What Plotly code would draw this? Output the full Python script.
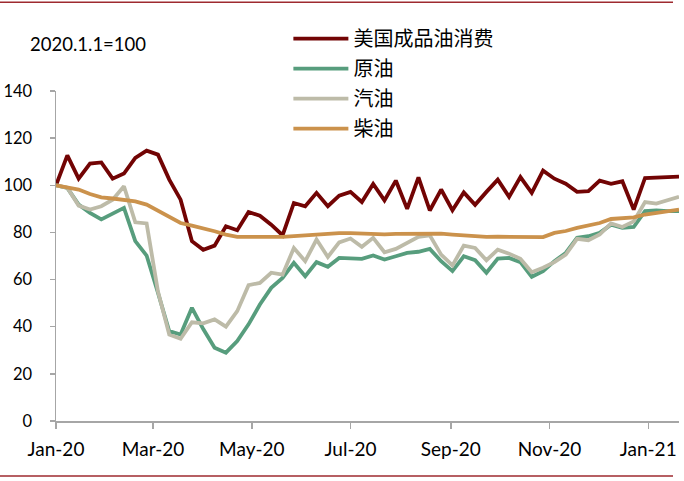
import pandas as pd
import plotly.graph_objects as go

dates = pd.date_range("2020-01-01", periods=56, freq="7D")

us_products = [100, 112.7, 102.8, 109.2, 109.7, 102.8, 105, 111.6, 114.7, 113,
               102.4, 93.9, 76.3, 72.6, 74.4, 82.6, 80.9, 88.7, 87.1, 83.3,
               78.8, 92.5, 91.1, 96.8, 91.1, 95.6, 97.2, 92.9, 100.6, 93.6,
               102, 90, 103.4, 89.3, 98.2, 89.4, 97, 91.7, 97.2, 102.4,
               95.1, 103.5, 96.8, 106.2, 102.8, 100.7, 97.2, 97.5, 102, 100.6,
               101.7, 89.7, 103.1, 103.4, 103.7, 103.7]
crude = [100, 98.9, 91.8, 88.3, 85.5, 88, 90.4, 76.3, 70.2, 54.4,
         38.1, 36.7, 48, 39, 31.1, 29, 33.9, 41, 49.4, 56.5,
         60.7, 67.1, 61.4, 67.4, 65.4, 69.2, 69.2, 68.8, 70.2, 68.5,
         69.9, 71.3, 71.8, 73, 67.8, 63.6, 69.9, 68.2, 62.9, 68.9,
         69.2, 67.4, 61.2, 63.6, 67.8, 71.3, 77.7, 78.4, 79.8, 83.3,
         81.9, 82.3, 89, 89.3, 89, 89]
gasoline = [100, 99, 91.4, 89.7, 91.1, 93.9, 99.6, 84.3, 83.8, 55,
            36.7, 34.9, 41.9, 41.4, 43.1, 40, 46.6, 57.6, 58.6, 62.9,
            62.1, 73.4, 67.8, 77, 69.6, 75.8, 77.4, 73.9, 77.7, 71.6,
            73, 75.6, 78.1, 78.8, 70.6, 66, 74.4, 73.4, 68.2, 72.7,
            71, 68.8, 63.1, 65, 67.4, 70.6, 77.3, 76.7, 79.1, 83.8,
            82.3, 84.7, 92.9, 92.2, 93.5, 95.1]
diesel = [100, 99.3, 98.2, 96.3, 94.9, 94.4, 93.9, 93.2, 91.8, 89.3,
          86.4, 84, 82.9, 81.9, 80.5, 79.1, 78.1, 78.1, 78, 78.1,
          78.1, 78.4, 78.7, 79.4, 79.4, 79.7, 79.7, 79.4, 79.4, 79.2,
          79.4, 79.4, 79.5, 79.8, 79.5, 79.1, 78.7, 78.2, 78.1, 78.2,
          78.1, 78, 77.7, 78, 79.8, 80.6, 81.9, 82.9, 84, 85.7,
          86.2, 86.4, 87.6, 88.3, 89, 89.7]

series_names = ["美国成品油消费", "原油", "汽油", "柴油"]
series_values = [us_products, crude, gasoline, diesel]
series_colors = ["#720404", "#579D7D", "#BDBBA8", "#CB924C"]

tick_dates = ["2020-01-01", "2020-03-01", "2020-05-01", "2020-07-01",
              "2020-09-01", "2020-11-01", "2021-01-01"]
tick_labels = ["Jan-20", "Mar-20", "May-20", "Jul-20", "Sep-20", "Nov-20", "Jan-21"]
y_ticks = [0, 20, 40, 60, 80, 100, 120, 140]

fig = go.Figure()
for name, vals, col in zip(series_names, series_values, series_colors):
    fig.add_trace(go.Scatter(x=dates, y=vals, name=name, mode="lines",
                             legendgroup=name, hoverinfo="skip",
                             line=dict(color=col, width=3.8)))

axis_col = "#A6A6A6"
fig.update_layout(
    width=684, height=481,
    margin=dict(l=56, r=5, t=91, b=59.5, autoexpand=False),
    paper_bgcolor="white", plot_bgcolor="white",
    hovermode=False,
    font=dict(family="Lato, Noto Sans", size=17, color="black"),
    title=dict(text="2020.1.1=100", x=30/684, xanchor="left", xref="container",
               y=1-45/481, yanchor="middle", yref="container",
               font=dict(family="Lato, Noto Sans", size=18.5, color="black")),
    showlegend=True,
    legend=dict(x=0.373, xanchor="left", y=1.218, yanchor="top",
                font=dict(family="Noto Sans CJK SC", size=20, color="black"),
                bgcolor="rgba(0,0,0,0)", tracegroupgap=1, itemwidth=55),
    xaxis=dict(type="date", range=[dates[0], dates[-1]],
               tickmode="array", tickvals=tick_dates, ticktext=tick_labels,
               showgrid=False, zeroline=False, showline=True, showspikes=False,
               linecolor=axis_col, linewidth=1.5,
               ticks="outside", ticklen=6, tickcolor=axis_col, tickwidth=1.5,
               ticklabelstandoff=5, tickfont=dict(size=19)),
    yaxis=dict(range=[0, 140], tickmode="array", tickvals=y_ticks,
               showgrid=False, zeroline=False, showline=True, showspikes=False,
               linecolor=axis_col, linewidth=1.5,
               ticks="outside", ticklen=5, tickcolor=axis_col, tickwidth=1.5,
               ticklabelstandoff=14, tickfont=dict(size=16.5)),
    shapes=[
        dict(type="line", xref="paper", yref="paper", x0=-56/623, x1=617/623,
             y0=1+89/330.5, y1=1+89/330.5, line=dict(color="#9E2A2F", width=1.5)),
        dict(type="line", xref="paper", yref="paper", x0=-56/623, x1=617/623,
             y0=-55/330.5, y1=-55/330.5, line=dict(color="#9E2A2F", width=1.5)),
    ],
)

fig.write_html("out.html",
               config={"displayModeBar": False, "staticPlot": True},
               post_script="document.body.style.margin='0';document.body.style.overflow='hidden';")
